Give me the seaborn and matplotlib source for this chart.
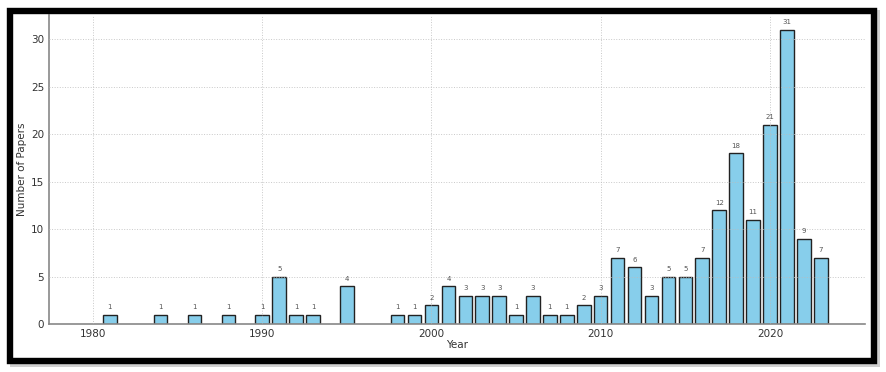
#Papers per year bar chart______________________________________________________

import numpy as np
import pandas as pd
import seaborn as sns
import matplotlib.pyplot as plt
from matplotlib.patches import Rectangle

#Data
years = [1981, 1984, 1986, 1988, 1990, 1991, 1992, 1993, 1995, 1998, 1999,
         2000, 2001, 2002, 2003, 2004, 2005, 2006, 2007, 2008, 2009,
         2010, 2011, 2012, 2013, 2014, 2015, 2016, 2017, 2018, 2019,
         2020, 2021, 2022, 2023]
papers = [1, 1, 1, 1, 1, 5, 1, 1, 4, 1, 1,
          2, 4, 3, 3, 3, 1, 3, 1, 1, 2,
          3, 7, 6, 3, 5, 5, 7, 12, 18, 11,
          21, 31, 9, 7]
xticks = [1980, 1990, 2000, 2010, 2020]
yticks = [0, 5, 10, 15, 20, 25, 30]

df = pd.DataFrame({'Year': years, 'Papers': papers})

sns.set_style('white')
plt.rcParams['font.family'] = ['DejaVu Sans']

fig = plt.figure(figsize=(8.86, 3.72), dpi=100)
fig.patch.set_facecolor('white')
ax = fig.add_axes([0.0553, 0.129, 0.9207, 0.831])
ax.set_facecolor('none')

sns.barplot(data=df, x='Year', y='Papers', native_scale=True, width=0.8,
            color='#87CEEB', saturation=1, edgecolor='#222222', linewidth=1,
            ax=ax, zorder=2)

#value on top of each bar
ax.bar_label(ax.containers[0], labels=[str(v) for v in papers],
             padding=3, fontsize=5, color='#555555')

ax.set_xlim(1977.4, 2025.6)
ax.set_ylim(0, 32.55)
ax.set_xticks(xticks)
ax.set_yticks(yticks)
#grid sits over the bars, as in the picture
ax.grid(True, linestyle=':', linewidth=0.7, color='#bbbbbb', alpha=0.8)
ax.set_axisbelow(False)

for side in ['top', 'right']:
    ax.spines[side].set_visible(False)
for side in ['left', 'bottom']:
    ax.spines[side].set_color('#888888')
    ax.spines[side].set_linewidth(1.2)
ax.tick_params(axis='both', direction='in', labelsize=7.5, colors='#888888',
               labelcolor='#333333', length=3, width=0.8, pad=3.5)

ax.set_xlabel('Year', fontsize=7.5, color='#333333', labelpad=1)
ax.set_ylabel('Number of Papers', fontsize=7.5, color='#333333', labelpad=3)

#black frame with soft shadow around the picture
fig.patches.append(Rectangle((10 / 886, 1 - 367 / 372), 870 / 886, 357 / 372,
                             transform=fig.transFigure, facecolor='#d0d0d0',
                             edgecolor='none', zorder=-3))
fig.patches.append(Rectangle((7 / 886, 1 - 364 / 372), 870 / 886, 356 / 372,
                             transform=fig.transFigure, facecolor='white',
                             edgecolor='none', zorder=-2))
fig.patches.append(Rectangle((10 / 886, 1 - 361 / 372), 864 / 886, 350.5 / 372,
                             transform=fig.transFigure, fill=False,
                             edgecolor='black', linewidth=4.6, zorder=5))

fig.savefig('out.png', dpi=100)
